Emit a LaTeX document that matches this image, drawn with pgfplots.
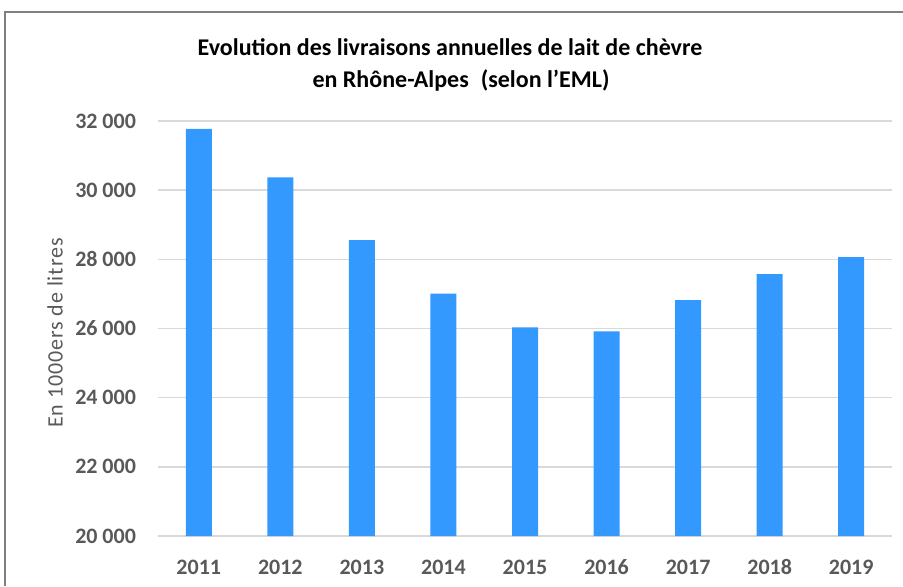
\documentclass[border=0pt]{standalone}
\usepackage{pgfplots}
\pgfplotsset{compat=1.18}
\usepackage{fontspec}
\setmainfont{Carlito}

\definecolor{barblue}{RGB}{51,153,255}
\definecolor{gridgray}{RGB}{217,217,217}
\definecolor{labelgray}{RGB}{89,89,89}
\definecolor{framegray}{RGB}{128,128,128}

\begin{document}
\begin{tikzpicture}
% 1 px of the reference = 0.5pt
\path[use as bounding box] (0pt,0pt) rectangle (451.5pt,293pt);
\draw[framegray, line width=0.8pt] (2.5pt,0pt) -- (2.5pt,287pt) -- (451.5pt,287pt);

\node[font=\fontsize{12}{14}\selectfont\bfseries, text=black]
  at (225pt,269.5pt) {Evolution des livraisons annuelles de lait de chèvre};
\node[font=\fontsize{12}{14}\selectfont\bfseries, text=black]
  at (230.5pt,253pt) {en Rhône-Alpes\hspace{0.5em}(selon l'EML)};

\begin{axis}[
    at={(79pt,25pt)}, anchor=south west,
    scale only axis,
    width=367pt, height=207.5pt,
    ybar, bar width=13pt,
    xmin=-0.5, xmax=8.5,
    ymin=20000, ymax=32000,
    ytick={20000,22000,...,32000},
    scaled y ticks=false,
    xtick=data,
    xticklabels={2011,2012,2013,2014,2015,2016,2017,2018,2019},
    axis x line*=bottom,
    axis y line*=left,
    x axis line style={draw=gridgray, line width=0.8pt, -},
    y axis line style={draw=none},
    ymajorgrids, grid style={gridgray, line width=0.8pt},
    major tick length=0pt,
    tick label style={font=\fontsize{11}{13}\selectfont\bfseries, text=labelgray},
    /pgf/number format/assume math mode=true,
    /pgf/number format/.cd, 1000 sep={\hspace{0.22em}}, fixed,
    /pgfplots/.cd,
    xticklabel style={yshift=-8pt, text height=7.6pt, text depth=0pt},
    yticklabel style={xshift=-7.5pt},
    clip=false,
]
\addplot[fill=barblue, draw=none] coordinates {
    (0,31770) (1,30370) (2,28555) (3,27010) (4,26030)
    (5,25920) (6,26820) (7,27570) (8,28065)
};
\end{axis}

\node[rotate=90, font=\fontsize{11}{13}\selectfont\addfontfeature{LetterSpace=4}, text=labelgray]
  at (27.5pt,126.5pt) {En 1000ers de litres};
\end{tikzpicture}
\end{document}
